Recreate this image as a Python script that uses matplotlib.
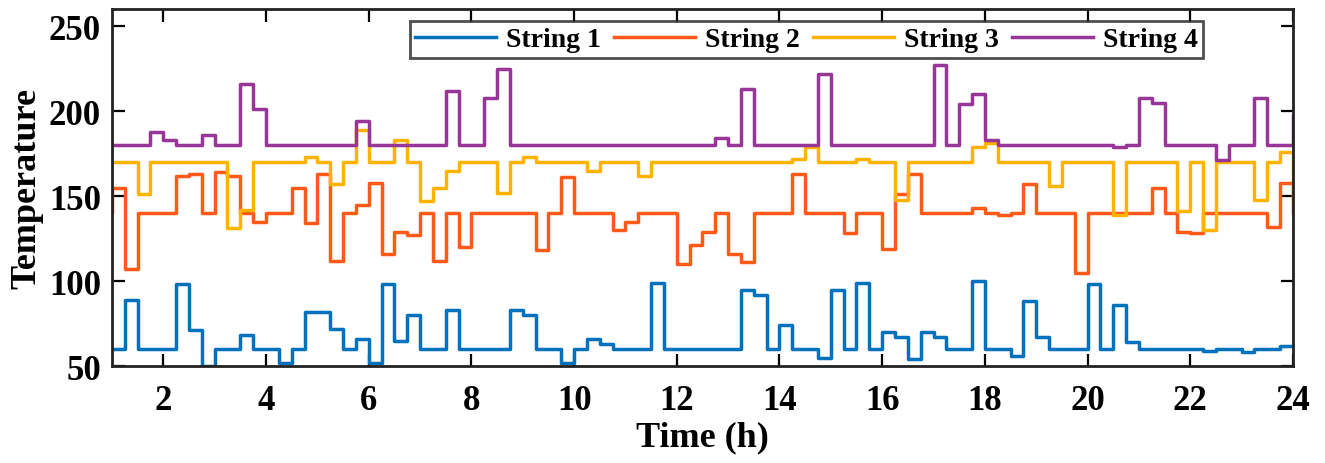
import numpy as np
import matplotlib
matplotlib.use('Agg')
import matplotlib.pyplot as plt

plt.rcParams['font.family'] = ['Liberation Serif', 'DejaVu Serif']
plt.rcParams['font.weight'] = 'bold'

# 15-minute samples, first one sits just left of the visible window
time_h = np.arange(0.75, 24.01, 0.25)

string1 = [60,
           60, 89, 60, 60, 60, 98, 71, 50, 60, 60, 68, 60, 60, 52, 60, 82,
           82, 72, 60, 66, 52, 98, 65, 80, 60, 60, 83, 60, 60, 60, 60, 83,
           80, 60, 60, 52, 60, 66, 63, 60, 60, 60, 99, 60, 60, 60, 60, 60,
           60, 95, 92, 60, 74, 60, 60, 55, 95, 60, 99, 60, 70, 67, 54, 70,
           67, 60, 60, 100, 60, 60, 56, 88, 67, 60, 60, 60, 98, 60, 86, 64,
           60, 60, 60, 60, 60, 59, 60, 60, 58, 60, 60, 62, 62]
string2 = [140,
           155, 107, 140, 140, 140, 162, 163, 140, 164, 162, 140, 135, 140, 140, 155, 134,
           163, 112, 140, 145, 158, 116, 129, 127, 140, 112, 140, 120, 140, 140, 140, 140,
           140, 118, 140, 161, 140, 140, 140, 130, 135, 140, 140, 140, 110, 121, 129, 140,
           116, 111, 140, 140, 140, 163, 140, 140, 140, 128, 140, 140, 119, 151, 163, 140,
           140, 140, 140, 143, 140, 139, 140, 157, 140, 140, 140, 105, 140, 140, 140, 140,
           140, 155, 140, 129, 128, 140, 140, 140, 140, 140, 132, 158, 140]
string3 = [170,
           170, 170, 151, 170, 170, 170, 170, 170, 170, 131, 142, 170, 170, 170, 170, 173,
           170, 157, 170, 189, 170, 170, 183, 170, 147, 155, 165, 170, 170, 170, 152, 170,
           173, 170, 170, 170, 170, 165, 170, 170, 170, 162, 170, 170, 170, 170, 170, 170,
           170, 170, 170, 170, 170, 172, 179, 170, 170, 170, 172, 170, 170, 148, 170, 170,
           170, 170, 170, 179, 181, 170, 170, 170, 170, 156, 170, 170, 170, 170, 139, 170,
           170, 170, 170, 141, 170, 130, 170, 170, 170, 148, 170, 176, 147]
string4 = [180,
           180, 180, 180, 188, 183, 180, 180, 186, 180, 180, 216, 201, 180, 180, 180, 180,
           180, 180, 180, 194, 180, 180, 180, 180, 180, 180, 212, 180, 180, 208, 225, 180,
           180, 180, 180, 180, 180, 180, 180, 180, 180, 180, 180, 180, 180, 180, 180, 184,
           180, 213, 180, 180, 180, 180, 180, 222, 180, 180, 180, 180, 180, 180, 180, 180,
           227, 180, 204, 210, 183, 180, 180, 180, 180, 180, 180, 180, 180, 180, 179, 180,
           208, 205, 180, 180, 180, 180, 171, 180, 180, 208, 180, 180, 197]

series = [string1, string2, string3, string4]
labels = ['String 1', 'String 2', 'String 3', 'String 4']
colors = ['#0072BD', '#FF5A1A', '#FFB300', '#973696']

fig = plt.figure(figsize=(13.25, 4.64), dpi=100)
ax = fig.add_axes([0.0845, 0.209, 0.8913, 0.769])

for vals, lab, col in zip(series, labels, colors):
    ax.step(time_h, vals, where='post', color=col, linewidth=2.5, label=lab)

ax.set_xlim(1, 24)
ax.set_ylim(50, 260)
ax.set_xticks(np.arange(2, 25, 2))
ax.set_yticks([50, 100, 150, 200, 250])
ax.tick_params(direction='in', length=9, width=1.6, top=True, right=True,
               labelsize=25, pad=8)
ax.tick_params(axis='x', pad=13)
for sp in ax.spines.values():
    sp.set_linewidth(2)
    sp.set_color('#222222')

ax.set_xlabel('Time (h)', fontsize=26, fontweight='bold', labelpad=2)
ax.set_ylabel('Temperature', fontsize=26, fontweight='bold', labelpad=4)

leg = ax.legend(loc='upper right', bbox_to_anchor=(0.924, 0.966), ncol=4,
                fontsize=20, frameon=True, fancybox=False, edgecolor='#222222',
                handlelength=2.9, handletextpad=0.35, columnspacing=0.5,
                borderpad=0.2, borderaxespad=0)
leg.get_frame().set_linewidth(2)

fig.savefig('out.png', dpi=100)
